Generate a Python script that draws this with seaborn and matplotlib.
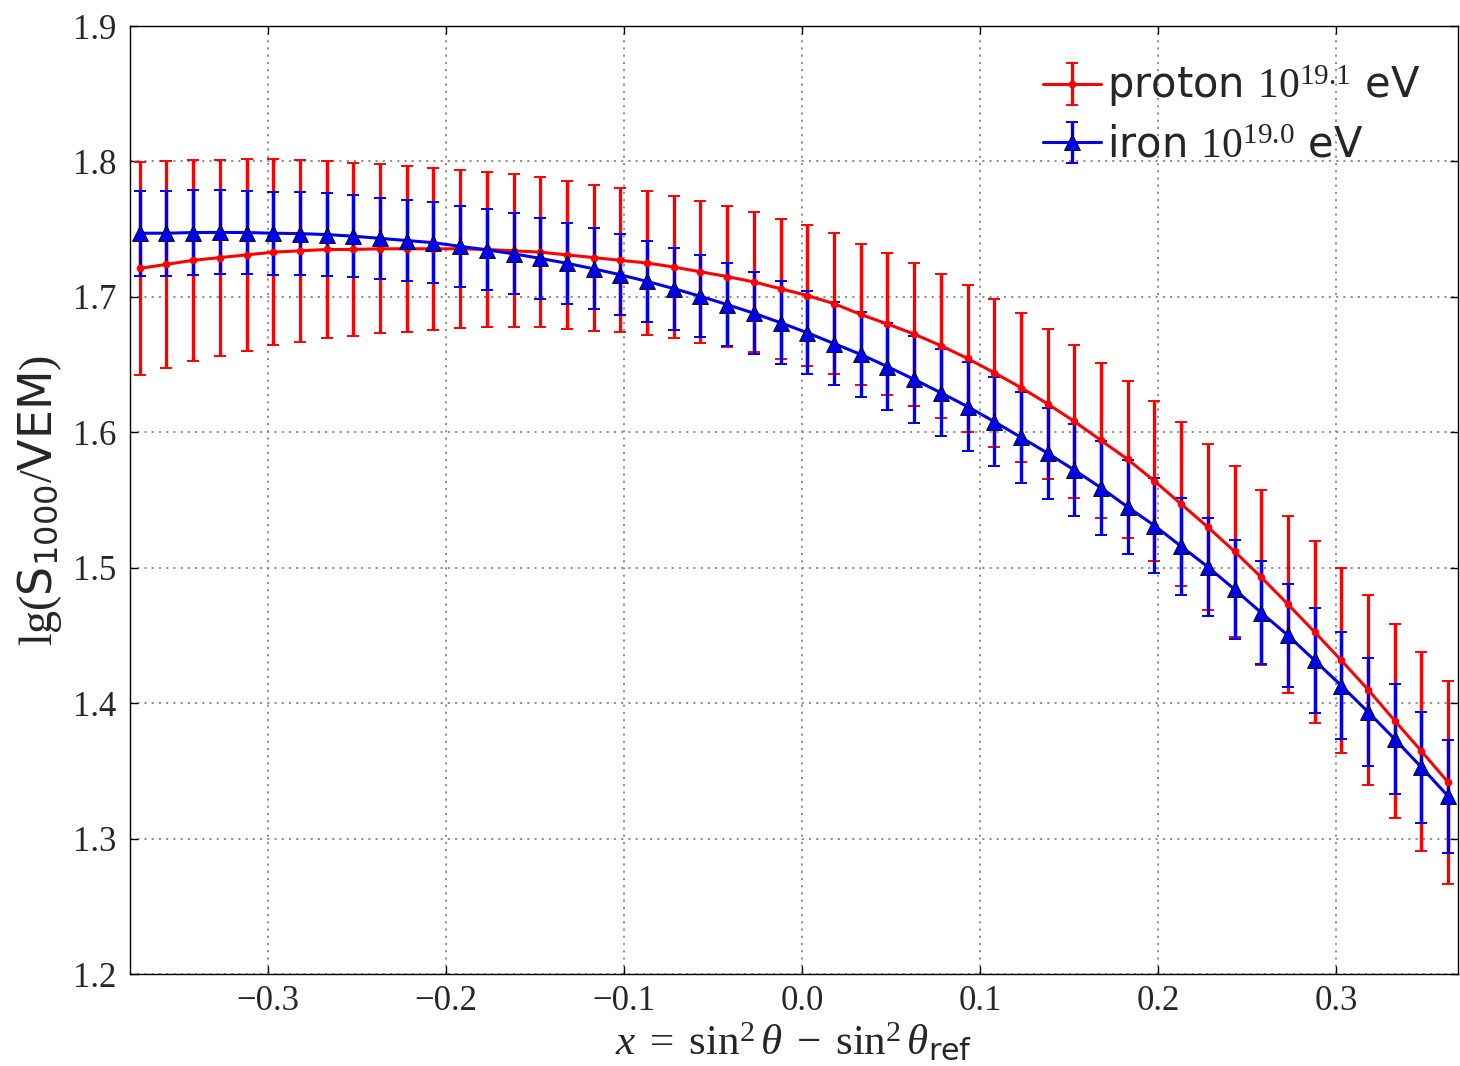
import numpy as np
import pandas as pd
import matplotlib
matplotlib.use("Agg")
import matplotlib.pyplot as plt
import seaborn as sns
from matplotlib.container import ErrorbarContainer

# ---------------- data ----------------
x_vals = [-0.372, -0.357, -0.342, -0.327, -0.312, -0.297, -0.282, -0.267, -0.252, -0.237,
          -0.222, -0.207, -0.192, -0.177, -0.162, -0.147, -0.132, -0.117, -0.102, -0.087,
          -0.072, -0.057, -0.042, -0.027, -0.012, 0.003, 0.018, 0.033, 0.048, 0.063,
          0.078, 0.093, 0.108, 0.123, 0.138, 0.153, 0.168, 0.183, 0.198, 0.213,
          0.228, 0.243, 0.258, 0.273, 0.288, 0.303, 0.318, 0.333, 0.348, 0.363]

proton_y = [1.721, 1.724, 1.727, 1.729, 1.731, 1.733, 1.734, 1.735, 1.735, 1.7355,
            1.7355, 1.7355, 1.7355, 1.735, 1.734, 1.733, 1.731, 1.729, 1.727, 1.725,
            1.722, 1.7185, 1.715, 1.711, 1.706, 1.701, 1.695, 1.687, 1.680, 1.6725,
            1.664, 1.6545, 1.644, 1.633, 1.621, 1.608, 1.594, 1.580, 1.564, 1.547,
            1.530, 1.512, 1.493, 1.473, 1.4525, 1.4315, 1.410, 1.387, 1.3645, 1.3415]
proton_err = [0.0788, 0.0765, 0.0743, 0.0724, 0.0709, 0.0687, 0.0670, 0.0652, 0.0637, 0.0623,
              0.0613, 0.0598, 0.0583, 0.0569, 0.0564, 0.0554, 0.0547, 0.0539, 0.0532, 0.0529,
              0.0524, 0.0522, 0.0519, 0.0517, 0.0517, 0.0517, 0.0519, 0.0522, 0.0526, 0.0528,
              0.0532, 0.0540, 0.0547, 0.0550, 0.0556, 0.0565, 0.0574, 0.0582, 0.0593, 0.0606,
              0.0615, 0.0628, 0.0645, 0.0655, 0.0671, 0.0686, 0.0702, 0.0718, 0.0736, 0.0751]

iron_y = [1.747, 1.747, 1.7475, 1.7476, 1.7475, 1.747, 1.7467, 1.746, 1.7448, 1.7432,
          1.7416, 1.740, 1.7373, 1.7347, 1.7318, 1.7284, 1.7248, 1.7207, 1.7163, 1.7114,
          1.7061, 1.7004, 1.6943, 1.6879, 1.6809, 1.6735, 1.6655, 1.6575, 1.6485, 1.6391,
          1.6292, 1.619, 1.6079, 1.5963, 1.5846, 1.5721, 1.559, 1.5448, 1.5311, 1.5158,
          1.5006, 1.484, 1.4668, 1.450, 1.4315, 1.4129, 1.3935, 1.3734, 1.3526, 1.3313]
iron_err = [0.0315, 0.0315, 0.0312, 0.0310, 0.0309, 0.0305, 0.0304, 0.0304, 0.0302, 0.0300,
            0.0299, 0.0299, 0.0298, 0.0299, 0.0299, 0.0298, 0.0299, 0.0299, 0.0298, 0.0300,
            0.0302, 0.0303, 0.0304, 0.0304, 0.0305, 0.0308, 0.0309, 0.0315, 0.0319, 0.0319,
            0.0322, 0.0326, 0.0331, 0.0334, 0.0337, 0.0340, 0.0345, 0.0347, 0.0350, 0.0358,
            0.0363, 0.0368, 0.0378, 0.0380, 0.0386, 0.0393, 0.0397, 0.0404, 0.0410, 0.0416]

series_labels = [r"proton $10^{19.1}$ eV", r"iron $10^{19.0}$ eV"]
x_ticks = [-0.3, -0.2, -0.1, 0.0, 0.1, 0.2, 0.3]
x_ticklabels = ["\u22120.3", "\u22120.2", "\u22120.1", "0.0", "0.1", "0.2", "0.3"]
y_ticks = [1.2, 1.3, 1.4, 1.5, 1.6, 1.7, 1.8, 1.9]
y_ticklabels = ["1.2", "1.3", "1.4", "1.5", "1.6", "1.7", "1.8", "1.9"]

df = pd.DataFrame({
    "x": x_vals * 2,
    "y": proton_y + iron_y,
    "err": proton_err + iron_err,
    "series": [series_labels[0]] * len(x_vals) + [series_labels[1]] * len(x_vals),
})

# ---------------- style ----------------
sns.set_theme(style="ticks")
plt.rcParams["font.family"] = ["DejaVu Sans"]
plt.rcParams["mathtext.fontset"] = "custom"
plt.rcParams["mathtext.rm"] = "Liberation Serif"
plt.rcParams["mathtext.it"] = "Liberation Serif:italic"
plt.rcParams["mathtext.bf"] = "Liberation Serif:bold"
plt.rcParams["mathtext.sf"] = "DejaVu Sans"

fig = plt.figure(figsize=(14.6, 10.66), dpi=100)
ax = fig.add_axes([0.089, 0.0863, 0.9096, 0.8893])

colors = {series_labels[0]: "#ff0000", series_labels[1]: "#0000ee"}
markers = {series_labels[0]: "o", series_labels[1]: "^"}
msizes = {series_labels[0]: 5.5, series_labels[1]: 11}

handles = []
for lab in series_labels:
    sub = df[df["series"] == lab]
    c = colors[lab]
    eb = ax.errorbar(sub["x"], sub["y"], yerr=sub["err"], fmt="none",
                     ecolor=c, elinewidth=2.4, capsize=4, capthick=1.4, zorder=2)
    handles.append((lab, eb))

line_handles = {}
for lab in series_labels:
    sub = df[df["series"] == lab]
    c = colors[lab]
    sns.lineplot(data=sub, x="x", y="y", ax=ax, color=c, linewidth=2.2,
                 marker=markers[lab], markersize=msizes[lab],
                 markeredgecolor="black" if lab == series_labels[1] else c,
                 markeredgewidth=0.6 if lab == series_labels[1] else 0.0,
                 legend=False, zorder=3, errorbar=None, sort=False)
    line_handles[lab] = ax.lines[-1]

leg_handles = []
for lab, eb in handles:
    cont = ErrorbarContainer((line_handles[lab], eb.lines[1], eb.lines[2]),
                             has_xerr=False, has_yerr=True, label=lab)
    leg_handles.append(cont)

leg = ax.legend(leg_handles, series_labels, loc="upper right", frameon=False,
                fontsize=30, handlelength=1.4, handletextpad=0.15,
                borderaxespad=0.5, labelspacing=0.35)

# axes
ax.set_xlim(-0.3775, 0.3685)
ax.set_ylim(1.2, 1.9)
ax.set_xticks(x_ticks)
ax.set_xticklabels(x_ticklabels)
ax.set_yticks(y_ticks)
ax.set_yticklabels(y_ticklabels)
for t in ax.get_xticklabels() + ax.get_yticklabels():
    t.set_fontfamily("Liberation Serif")
    t.set_fontsize(25)
ax.tick_params(direction="in", top=True, right=True, length=6, width=1,
               color="black", pad=10)
ax.tick_params(axis="x", pad=8)
ax.grid(True, linestyle=(0, (1.2, 2.8)), color="#888888", linewidth=1.3)
for s in ax.spines.values():
    s.set_color("black")
    s.set_linewidth(1.0)

ax.set_xlabel(r"$x\;=\;\sin^2\theta\;-\;\sin^2\theta_{\mathsf{ref}}$", fontsize=31, labelpad=2)
ax.set_ylabel(r"$\mathrm{lg}(\mathsf{S}_{\mathsf{1000}}/\mathsf{VEM})$", fontsize=33, labelpad=6)

fig.savefig("out.png", dpi=100)
